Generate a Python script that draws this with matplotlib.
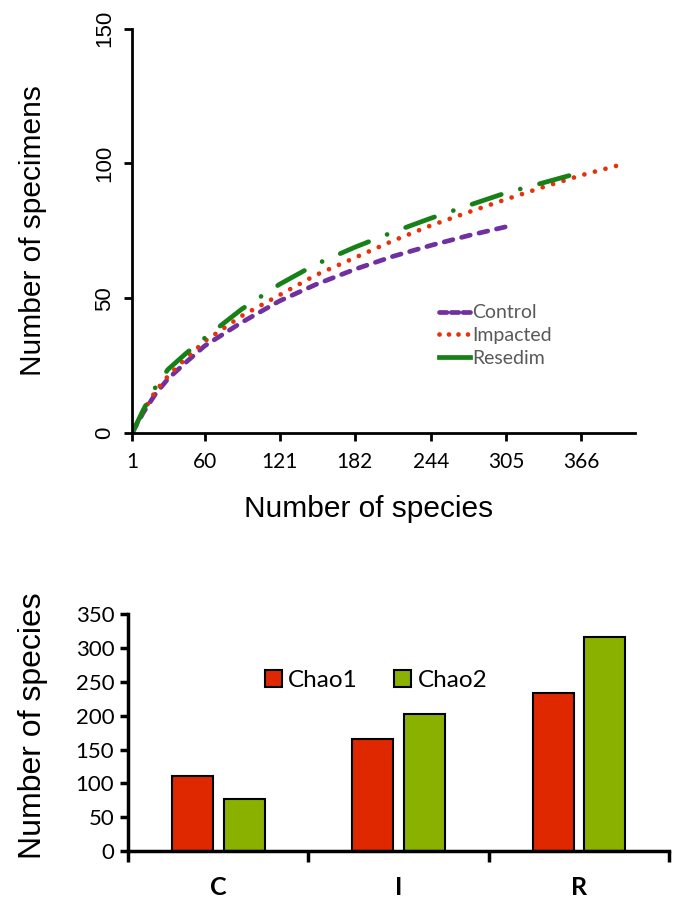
import numpy as np
import matplotlib
matplotlib.use("Agg")
import matplotlib.pyplot as plt
from matplotlib.lines import Line2D

# rarefaction curves
ctrl_x = [1, 10, 20, 30, 45, 60, 90, 121, 150, 182, 213, 244, 275, 305, 311]
ctrl_y = [0, 7.5, 14.5, 20, 26.3, 32.3, 41, 49, 55, 60.7, 65.5, 69.6, 73.3, 76.5, 77]
imp_x = [1, 10, 20, 30, 45, 60, 90, 121, 150, 182, 213, 244, 275, 305, 335, 366, 397]
imp_y = [0, 8, 15.5, 21, 27.8, 34, 43.4, 51.2, 58.5, 65, 71.3, 77, 82, 86.7, 91.2, 95.6, 99.4]
res_x = [1, 10, 20, 30, 45, 60, 90, 121, 150, 182, 213, 244, 275, 305, 335, 362]
res_y = [0, 8.5, 17, 23.5, 29.6, 35.2, 45.9, 55.2, 62.5, 68.9, 74.5, 79.7, 84.5, 89.1, 92.8, 96.2]
curve_ticks = [1, 60, 121, 182, 244, 305, 366]

# Chao estimates
sites = ['C', 'I', 'R']
chao1 = [111, 165, 234]
chao2 = [77, 203, 316]

fig = plt.figure(figsize=(6.78, 8.98), dpi=100)

# ---- top: rarefaction curves ----
ax1 = fig.add_axes([0.195, 0.518, 0.742, 0.45])
lw = 3.4
ax1.plot(ctrl_x, ctrl_y, color='#7030A0', lw=lw, dashes=(1.9, 1.9),
         dash_capstyle='round', label='Control')
ax1.plot(imp_x, imp_y, color='#E8300A', lw=lw, dashes=(0.01, 2.3),
         dash_capstyle='round', label='Impacted')
ax1.plot(res_x, res_y, color='#178017', lw=lw, dashes=(6.5, 4.2, 0.01, 4.2),
         dash_capstyle='round', label='Resedim')
ax1.set_xlim(1, 410)
ax1.set_ylim(0, 150)
ax1.set_xticks(curve_ticks)
ax1.set_yticks([0, 50, 100, 150])
for s in ['top', 'right']:
    ax1.spines[s].set_visible(False)
for s in ['left', 'bottom']:
    ax1.spines[s].set_linewidth(2)
ax1.tick_params(width=2, length=6, direction='out')
ax1.tick_params(axis='x', labelsize=15, pad=8)
for t in ax1.get_xticklabels():
    t.set_fontfamily('Lato')
ax1.tick_params(axis='y', labelsize=16, pad=6)
for t in ax1.get_yticklabels():
    t.set_rotation(90)
    t.set_va('center')
    t.set_fontfamily('Liberation Sans')
ax1.set_xlabel('Number of species', fontsize=21.5, family='Liberation Sans', labelpad=16)
ax1.xaxis.label.set_x(0.469)
ax1.set_ylabel('Number of specimens', fontsize=21.5, family='Liberation Sans', labelpad=34)

leg_handles = [
    Line2D([], [], color='#7030A0', lw=lw, dashes=(1.6, 0.9), dash_capstyle='round'),
    Line2D([], [], color='#E8300A', lw=lw, dashes=(0.01, 2.0), dash_capstyle='round'),
    Line2D([], [], color='#178017', lw=lw),
]
leg1 = ax1.legend(leg_handles, ['Control', 'Impacted', 'Resedim'], loc='upper left',
                  bbox_to_anchor=(0.61, 0.318), frameon=False, borderpad=0,
                  borderaxespad=0, handlelength=1.6, handletextpad=0.1,
                  labelspacing=0.3, prop={'family': 'Lato', 'size': 14})
for t in leg1.get_texts():
    t.set_color('#595959')

# ---- bottom: Chao bars ----
ax2 = fig.add_axes([0.189, 0.0523, 0.798, 0.2637])
x = np.arange(len(sites)) + 0.5
w = 0.227
ax2.bar(x - 0.03 - w / 2, chao1, width=w, color='#E02800', edgecolor='black',
        linewidth=1.5, label='Chao1')
ax2.bar(x + 0.03 + w / 2, chao2, width=w, color='#8AB000', edgecolor='black',
        linewidth=1.5, label='Chao2')
ax2.set_xlim(0, 3)
ax2.set_ylim(0, 350)
ax2.set_yticks(range(0, 351, 50))
ax2.set_xticks([0, 1, 2, 3])
ax2.set_xticklabels([])
ax2.set_xticks(x, minor=True)
ax2.set_xticklabels(sites, minor=True, fontsize=18, fontweight='bold', family='Lato')
ax2.tick_params(axis='x', which='minor', length=0, pad=18)
ax2.tick_params(axis='x', which='major', length=8, width=2.5, direction='out')
ax2.tick_params(axis='y', length=6, width=2.5, direction='out', labelsize=16, pad=4)
for t in ax2.get_yticklabels():
    t.set_fontfamily('Lato')
for s in ['top', 'right']:
    ax2.spines[s].set_visible(False)
for s in ['left', 'bottom']:
    ax2.spines[s].set_linewidth(2.5)
ax2.set_ylabel('Number of species', fontsize=23, family='Liberation Sans', labelpad=20)
ax2.yaxis.label.set_y(0.53)
ax2.legend(loc='upper left', bbox_to_anchor=(0.253, 0.763), ncol=2, frameon=False,
           borderpad=0, borderaxespad=0, handlelength=0.7, handleheight=0.7,
           handletextpad=0.25, columnspacing=1.5, prop={'family': 'Lato', 'size': 17.5})

fig.savefig('out.png', dpi=100)
